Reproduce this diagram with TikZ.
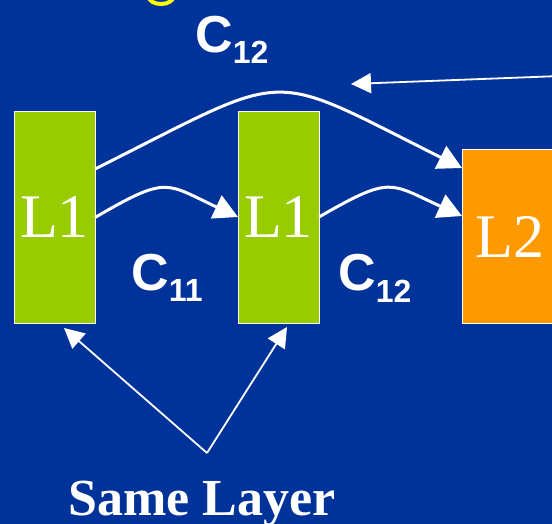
\documentclass[tikz,border=0pt]{standalone}
\usepackage{fontspec}
\setmainfont{Liberation Serif}
\newfontfamily\arialfont{Liberation Sans}
\usetikzlibrary{arrows.meta}
\definecolor{bg}{HTML}{003399}
\definecolor{lgreen}{HTML}{99CC00}
\definecolor{lorange}{HTML}{FF9900}
\definecolor{ttlyellow}{HTML}{FFFF00}
\begin{document}
\begin{tikzpicture}[x=1pt,y=-1pt,
  layerbox/.style={draw=white, line width=1pt, inner sep=0pt, outer sep=0pt, text=white, font=\fontsize{62}{62}\selectfont},
  conn/.style={white, line width=3pt, -{Triangle[length=24pt,width=25pt]}},
  pointer/.style={white, line width=1.8pt, -{Triangle[length=20pt,width=20pt]}},
  clabel/.style={text=white, inner sep=0pt, anchor=base west, font=\arialfont\bfseries\fontsize{52}{52}\selectfont}]
\fill[bg] (0,0) rectangle (552,524);
\useasboundingbox (0,0) rectangle (552,524);
\clip (0,0) rectangle (552,524);
% partial yellow title glyph cut off at top
\draw[ttlyellow, line width=4pt] (149,-3) arc[start angle=180, end angle=0, x radius=12, y radius=7];
% boxes
\node[layerbox, fill=lgreen, minimum width=81pt, minimum height=211pt] (la) at (54.5,217.5) {L1};
\node[layerbox, fill=lgreen, minimum width=81pt, minimum height=211pt] (lb) at (278.5,217.5) {L1};
\node[layerbox, fill=lorange, minimum width=96pt, minimum height=173pt] (lc) at (510,236.5) {L2};
% labels
\node[clabel] (ctop) at (195,53) {C\raisebox{-11pt}{\fontsize{32}{32}\selectfont 12}};
\node[clabel] (cone) at (131,290) {C\raisebox{-11pt}{\fontsize{32}{32}\selectfont 11}};
\node[clabel] (ctwo) at (338,290) {C\raisebox{-13pt}{\fontsize{32}{32}\selectfont 12}};
\node[text=white, inner sep=0pt, anchor=base, font=\bfseries\fontsize{52}{52}\selectfont] (same) at (202,515) {Same Layer};
% connector points
\coordinate (s0) at (95,169);
\coordinate (e0) at (462,168);
\coordinate (e1) at (238,217);
\coordinate (e2) at (462,216);
\coordinate (s2) at (319,217);
\coordinate (ptrS) at (560,76);
\coordinate (ptrE) at (351,84);
\coordinate (apex) at (207,453);
\coordinate (tipA) at (64,328);
\coordinate (tipB) at (287,327);
% connectors
\draw[conn] (s0) .. controls (295,69) and (262,68) .. (e0);
\draw[conn] (la.east) .. controls (168,175) and (165,183) .. (e1);
\draw[conn] (s2) .. controls (392,175) and (389,183) .. (e2);
\draw[pointer] (ptrS) -- (ptrE);
\draw[pointer] (apex) -- (tipA);
\draw[pointer] (apex) -- (tipB);
\end{tikzpicture}
\end{document}
